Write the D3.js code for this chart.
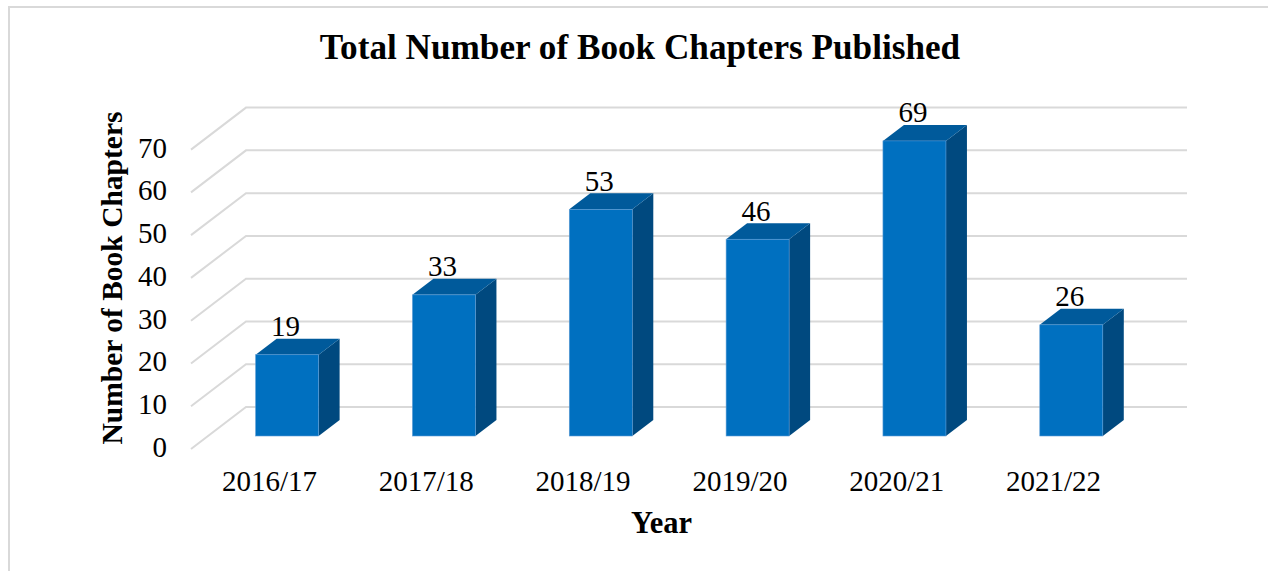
<!DOCTYPE html>
<html><head><meta charset="utf-8">
<script src="https://cdn.jsdelivr.net/npm/d3@7/dist/d3.min.js"></script>
<style>html,body{margin:0;padding:0;background:#fff}svg{display:block}text{font-family:"Liberation Serif",serif;fill:#000}</style>
</head><body><div id="c"></div>
<script>
const categories=["2016/17","2017/18","2018/19","2019/20","2020/21","2021/22"];
const values=[19,33,53,46,69,26];
const yTicks=[0,10,20,30,40,50,60,70];
const W=1268,H=571;
const svg=d3.select("#c").append("svg").attr("width",W).attr("height",H);
const floorDx=55,floorDy=42,barDx=21,barDy=16,barOffX=17.7,barOffY=13;
const x=d3.scaleBand().domain(categories).range([191,1132]).paddingInner(0).paddingOuter(0);
const y=d3.scaleLinear().domain([0,70]).range([449,149.6]);
const barW=63;
// frame
svg.append("path").attr("d",`M9,${H}V7H${W}`).attr("fill","none").attr("stroke","#d9d9d9").attr("stroke-width",2);
// gridlines
const g=svg.append("g");
yTicks.forEach(t=>{
  g.append("path").attr("d",d3.line()([[191,y(t)],[191+floorDx,y(t)-floorDy],[1187,y(t)-floorDy]]))
   .attr("fill","none").attr("stroke","#d9d9d9").attr("stroke-width",2);
});
// bars
const bars=svg.append("g").selectAll("g").data(categories.map((c,i)=>({c,v:values[i]}))).join("g");
bars.each(function(d){
  const s=d3.select(this);
  const bw=x.bandwidth();
  const x0=x(d.c)+(bw-barW)/2+barOffX, x1=x0+barW;
  const yb=y(0)-barOffY, yt=y(d.v)-barOffY;
  s.append("path").attr("d",d3.line()([[x1,yt],[x1+barDx,yt-barDy],[x1+barDx,yb-barDy],[x1,yb]])).attr("fill","#00497f");
  s.append("path").attr("d",d3.line()([[x0,yt],[x0+barDx,yt-barDy],[x1+barDx,yt-barDy],[x1,yt]])).attr("fill","#005a9b");
  s.append("rect").attr("x",x0).attr("y",yt).attr("width",barW).attr("height",yb-yt).attr("fill","#0070c0").attr("stroke","#5b9bd5").attr("stroke-width",0.6);
  s.append("text").attr("x",(x0+x1)/2-1.5).attr("y",yt-18.5).attr("text-anchor","middle").attr("font-size",29).text(d.v);
  s.append("text").attr("x",x(d.c)+bw/2).attr("y",491).attr("text-anchor","middle").attr("font-size",29).text(d.c);
});
// y tick labels
svg.append("g").selectAll("text").data(yTicks).join("text")
  .attr("x",167).attr("y",d=>y(d)+8).attr("text-anchor","end").attr("font-size",29).text(d=>d);
// titles
svg.append("text").attr("x",640).attr("y",59).attr("text-anchor","middle").attr("font-size",35.2).attr("font-weight","bold").text("Total Number of Book Chapters Published");
svg.append("text").attr("x",661.5).attr("y",533).attr("text-anchor","middle").attr("font-size",30.5).attr("font-weight","bold").text("Year");
svg.append("text").attr("transform","translate(122,278) rotate(-90)").attr("text-anchor","middle").attr("font-size",29.5).attr("font-weight","bold").text("Number of Book Chapters");
</script></body></html>
